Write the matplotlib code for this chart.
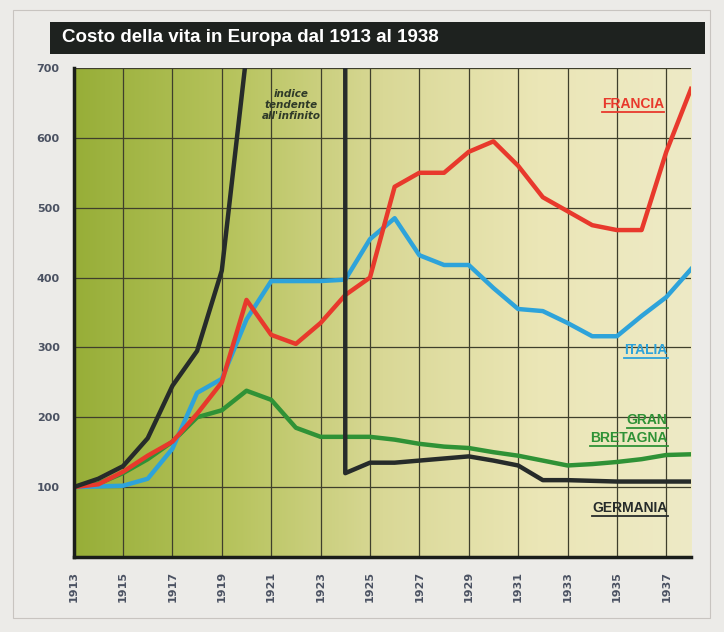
import matplotlib
matplotlib.use("Agg")
import matplotlib.pyplot as plt
import numpy as np
from matplotlib.colors import LinearSegmentedColormap
from matplotlib.patches import Rectangle
from matplotlib.lines import Line2D

# ---- data (cost of living index, 1913 = 100) ----
years = list(range(1913, 1939))

francia = [100, 104, 122, 145, 165, 205, 250, 368, 318, 305, 335, 375, 400,
           530, 550, 550, 580, 595, 560, 515, 495, 475, 468, 468, 580, 670]
italia = [100, 101, 102, 112, 155, 235, 255, 340, 395, 395, 395, 397, 455,
          485, 432, 418, 418, 385, 355, 352, 335, 316, 316, 345, 372, 412]
gran_bretagna = [100, 105, 120, 140, 165, 200, 210, 238, 225, 185, 172, 172, 172,
                 168, 162, 158, 156, 150, 145, 138, 131, 133, 136, 140, 146, 147]
# Germania: hyperinflation 1921-1923, index off the chart
germania = [100, 112, 130, 170, 245, 295, 410, 720, 1400, 15000, 1e7, 120, 135,
            135, 138, 141, 144, 138, 131, 110, 110, 109, 108, 108, 108, 108]

y_ticks = [100, 200, 300, 400, 500, 600, 700]
x_ticks = list(range(1913, 1938, 2))

title = "Costo della vita in Europa dal 1913 al 1938"

# ---- figure ----
fig = plt.figure(figsize=(7.24, 6.32), dpi=100, facecolor="#ecebe8")
ax = fig.add_axes([0.1017, 0.1187, 0.8527, 0.7737])

# paper frame
fig.patches.append(Rectangle((13 / 724, 1 - 618 / 632), 697 / 724, 608 / 632,
                             transform=fig.transFigure, fill=False,
                             edgecolor="#c8c4c0", linewidth=0.8))

# title banner
fig.patches.append(Rectangle((50 / 724, 1 - 54 / 632), 655 / 724, 32 / 632,
                             transform=fig.transFigure, facecolor="#1e221f",
                             edgecolor="none"))
fig.text(62 / 724, 1 - 38 / 632, title, color="white", fontsize=13.5,
         fontweight="bold", va="center", ha="left",
         family=["Liberation Sans Narrow", "Liberation Sans", "DejaVu Sans"])

# green -> pale yellow background
cmap = LinearSegmentedColormap.from_list(
    "bg", [(0.0, "#97ae38"), (0.25, "#b6c35c"), (0.5, "#d9d896"),
           (0.75, "#ebe6b6"), (1.0, "#eeeac6")])
ax.imshow(np.linspace(0, 1, 256)[None, :], extent=[1913, 1938, 0, 700],
          aspect="auto", cmap=cmap, zorder=0)

ax.set_xlim(1913, 1938)
ax.set_ylim(0, 700)

# grid
for x in x_ticks[1:]:
    ax.axvline(x, color="#3f3f2c", linewidth=0.9, zorder=1)
for y in y_ticks:
    ax.axhline(y, color="#3f3f2c", linewidth=0.9, zorder=1)

lw = 3.2
ax.plot(years, gran_bretagna, color="#2f9236", linewidth=lw, zorder=3,
        solid_joinstyle="round")
ax.plot(years, italia, color="#2ea3da", linewidth=lw, zorder=4,
        solid_joinstyle="round")
ax.plot(years, francia, color="#e8392c", linewidth=lw, zorder=5,
        solid_joinstyle="round")
ax.plot(years, germania, color="#262b2a", linewidth=lw, zorder=6,
        solid_joinstyle="round")

# axes styling
for s in ["top", "right"]:
    ax.spines[s].set_visible(False)
for s in ["left", "bottom"]:
    ax.spines[s].set_linewidth(2.5)
    ax.spines[s].set_color("#1a1d1a")
    ax.spines[s].set_zorder(7)

ax.set_yticks(y_ticks)
ax.set_yticklabels([str(v) for v in y_ticks])
ax.set_xticks(x_ticks)
ax.set_xticklabels([str(v) for v in x_ticks], rotation=90)
ax.tick_params(length=0, colors="#4b5262", labelsize=8, pad=10)
for lab in ax.get_xticklabels() + ax.get_yticklabels():
    lab.set_fontweight("bold")

# series labels
lab_font = ["Liberation Sans Narrow", "Liberation Sans", "DejaVu Sans"]
labels = [
    ("FRANCIA", 1936.9, 649, "#e8392c"),
    ("ITALIA", 1937.05, 296, "#2ea3da"),
    ("GRAN", 1937.05, 196, "#2f9236"),
    ("BRETAGNA", 1937.05, 170, "#2f9236"),
    ("GERMANIA", 1937.05, 70, "#262b2a"),
]
texts = []
for name, x, y, c in labels:
    t = ax.text(x, y, name, color=c, fontsize=10, fontweight="bold",
                ha="right", va="center", family=lab_font, zorder=8)
    texts.append((t, c))

ax.text(1921.8, 647, "indice\ntendente\nall'infinito", ha="center", va="center",
        fontsize=7.5, style="italic", fontweight="bold", color="#2f3a28",
        linespacing=1.15, zorder=8)

# underline the series labels
fig.canvas.draw()
renderer = fig.canvas.get_renderer()
inv = fig.transFigure.inverted()
for t, c in texts:
    bb = t.get_window_extent(renderer)
    (x0, y0), (x1, _) = inv.transform([(bb.x0, bb.y0), (bb.x1, bb.y1)])
    fig.lines.append(Line2D([x0, x1], [y0 - 0.002, y0 - 0.002],
                            transform=fig.transFigure, color=c, linewidth=1.3))

fig.savefig("out.png", dpi=100, facecolor=fig.get_facecolor())
